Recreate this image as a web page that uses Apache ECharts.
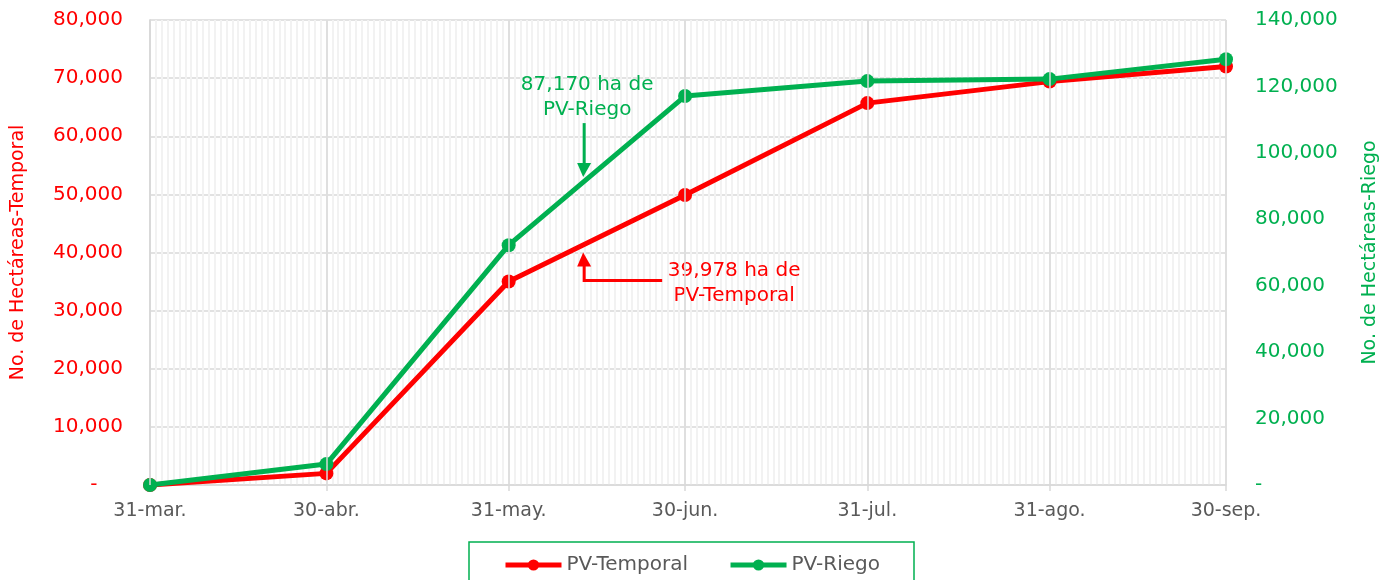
<!DOCTYPE html>
<html><head><meta charset="utf-8">
<script src="https://cdn.jsdelivr.net/npm/echarts@6/dist/echarts.min.js"></script>
<style>html,body{margin:0;padding:0;background:#fff}#c{width:1383px;height:580px}</style>
</head><body><div id="c"></div>
<script>
const dates = ['2023-03-31','2023-04-30','2023-05-31','2023-06-30','2023-07-31','2023-08-31','2023-09-30'];
const tickLabels = ['31-mar.','30-abr.','31-may.','30-jun.','31-jul.','31-ago.','30-sep.'];
const temporal = [0, 2000, 35000, 49900, 65700, 69400, 72000];
const riego = [0, 6300, 72200, 117100, 121600, 122200, 128200];
const seriesNames = ['PV-Temporal','PV-Riego'];
const leftAxisName = 'No. de Hectáreas-Temporal';
const rightAxisName = 'No. de Hectáreas-Riego';
const noteRiego = ['87,170 ha de','PV-Riego'];
const noteTemporal = ['39,978 ha de','PV-Temporal'];
// annotation anchors: [day offset, value]
const anchorRiego = [73.5, 92700];
const anchorTemporal = [73.5, 40000];

const RED = '#FF0000', GREEN = '#00B050', GRAY = '#595959';
const FONT = 'DejaVu Sans';
const DAY = 86400000;
const t0 = Date.parse(dates[0]);
const offs = dates.map(d => Math.round((Date.parse(d) - t0) / DAY));
const maxOff = offs[offs.length - 1];
const labelMap = {};
offs.forEach((o, i) => labelMap[o] = tickLabels[i]);
const fmt = v => v === 0 ? '-' : v.toLocaleString('en-US');

const chart = echarts.init(document.getElementById('c'));
chart.setOption({
  animation: false,
  textStyle: {fontFamily: FONT},
  grid: {left: 150, right: 157, top: 20, bottom: 95, containLabel: false, outerBoundsMode: 'none'},
  xAxis: [{
    type: 'value', min: 0, max: maxOff, interval: 1,
    axisLine: {show: false}, axisTick: {show: false}, axisLabel: {show: false},
    splitLine: {show: true, lineStyle: {color: '#F2F2F2', width: 2}}
  }, {
    type: 'value', min: 0, max: maxOff, position: 'bottom',
    axisLine: {show: true, lineStyle: {color: '#D9D9D9', width: 1.5}},
    axisTick: {show: true, customValues: offs, length: 6, lineStyle: {color: '#D9D9D9', width: 1.5}},
    axisLabel: {show: true, customValues: offs, formatter: v => labelMap[v] || '', color: GRAY, fontSize: 19, margin: 17, fontFamily: FONT},
    splitLine: {show: false}
  }],
  yAxis: [{
    type: 'value', min: 0, max: 80000, interval: 10000, position: 'left',
    name: leftAxisName, nameLocation: 'middle', nameGap: 122, nameRotate: 90,
    nameTextStyle: {color: RED, fontSize: 19, fontFamily: FONT},
    axisLine: {show: true, lineStyle: {color: '#D9D9D9', width: 1.5}},
    axisTick: {show: false},
    axisLabel: {color: RED, fontSize: 20, margin: 27, fontFamily: FONT, formatter: v => v === 0 ? '-    ' : fmt(v)},
    splitLine: {show: true, lineStyle: {color: '#D9D9D9', width: 1.5}}
  }, {
    type: 'value', min: 0, max: 140000, interval: 20000, position: 'right',
    name: rightAxisName, nameLocation: 'middle', nameGap: 135, nameRotate: 90,
    nameTextStyle: {color: GREEN, fontSize: 19, fontFamily: FONT},
    axisLine: {show: true, lineStyle: {color: '#D9D9D9', width: 1.5}},
    axisTick: {show: false},
    axisLabel: {color: GREEN, fontSize: 20, margin: 29, fontFamily: FONT, formatter: fmt},
    splitLine: {show: false}
  }],
  legend: {
    data: seriesNames, left: 'center', top: 542,
    borderColor: GREEN, borderWidth: 1.5, padding: [13, 34, 9, 34],
    itemWidth: 56, itemHeight: 14, itemGap: 40,
    lineStyle: {width: 5},
    textStyle: {color: GRAY, fontSize: 20, fontFamily: FONT}
  },
  series: [{
    name: seriesNames[0], type: 'line', xAxisIndex: 0, yAxisIndex: 0,
    data: offs.map((o, i) => [o, temporal[i]]),
    symbol: 'circle', symbolSize: 14, z: 3,
    lineStyle: {color: RED, width: 5}, itemStyle: {color: RED},
    markLine: {
      silent: true, symbol: 'none', label: {show: false},
      lineStyle: {color: '#D9D9D9', width: 1.5, type: 'solid'},
      data: offs.map(o => ({xAxis: o}))
    }
  }, {
    name: seriesNames[1], type: 'line', xAxisIndex: 0, yAxisIndex: 1,
    data: offs.map((o, i) => [o, riego[i]]),
    symbol: 'circle', symbolSize: 14, z: 4,
    lineStyle: {color: GREEN, width: 5}, itemStyle: {color: GREEN}
  }]
});

function drawNotes() {
  const g = chart.convertToPixel({xAxisIndex: 0, yAxisIndex: 1}, anchorRiego);
  const r = chart.convertToPixel({xAxisIndex: 0, yAxisIndex: 0}, anchorTemporal);
  const ts = (c) => ({fill: c, fontSize: 20, fontFamily: FONT, textAlign: 'center', textVerticalAlign: 'middle'});
  chart.setOption({graphic: [
    {type: 'text', x: g[0] + 5, y: g[1] - 92, style: Object.assign({text: noteRiego[0]}, ts(GREEN))},
    {type: 'text', x: g[0] + 5, y: g[1] - 67, style: Object.assign({text: noteRiego[1]}, ts(GREEN))},
    {type: 'line', shape: {x1: g[0] + 2, y1: g[1] - 54, x2: g[0] + 2, y2: g[1] - 12}, style: {stroke: GREEN, lineWidth: 3}},
    {type: 'polygon', shape: {points: [[g[0] - 5, g[1] - 14], [g[0] + 9, g[1] - 14], [g[0] + 1, g[1]]]}, style: {fill: GREEN}},
    {type: 'text', x: r[0] + 152, y: r[1] + 18, style: Object.assign({text: noteTemporal[0]}, ts(RED))},
    {type: 'text', x: r[0] + 152, y: r[1] + 43, style: Object.assign({text: noteTemporal[1]}, ts(RED))},
    {type: 'polyline', shape: {points: [[r[0] + 80, r[1] + 28], [r[0] + 2, r[1] + 28], [r[0] + 2, r[1] + 12]]}, style: {stroke: RED, lineWidth: 3, fill: null}},
    {type: 'polygon', shape: {points: [[r[0] - 5, r[1] + 14], [r[0] + 9, r[1] + 14], [r[0] + 1, r[1]]]}, style: {fill: RED}}
  ]});
}
drawNotes();
</script></body></html>
